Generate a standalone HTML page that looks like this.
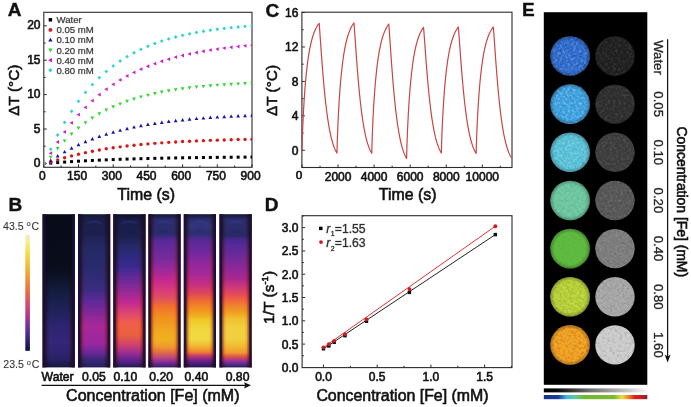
<!DOCTYPE html>
<html><head><meta charset="utf-8"><style>
html,body{margin:0;padding:0;background:#fff;width:691px;height:407px;overflow:hidden}
svg{display:block}
text{font-family:"Liberation Sans",sans-serif}
</style></head><body>
<svg width="691" height="407" viewBox="0 0 691 407" font-family='&quot;Liberation Sans&quot;, sans-serif'><rect x="43.8" y="12.3" width="208.2" height="155" fill="none" stroke="#2b2b2b" stroke-width="1.1"/>
<path d="M43.8 167.3v-3 M61.15 167.3v-1.8 M78.5 167.3v-3 M95.85 167.3v-1.8 M113.2 167.3v-3 M130.55 167.3v-1.8 M147.9 167.3v-3 M165.25 167.3v-1.8 M182.6 167.3v-3 M199.95 167.3v-1.8 M217.3 167.3v-3 M234.65 167.3v-1.8 M252 167.3v-3 M43.8 163.4h3 M43.8 146.2h1.8 M43.8 129h3 M43.8 111.8h1.8 M43.8 94.6h3 M43.8 77.4h1.8 M43.8 60.2h3 M43.8 43h1.8 M43.8 25.8h3" stroke="#2b2b2b" stroke-width="1" fill="none"/>
<text x="42.4" y="180.3" font-size="12" text-anchor="middle" font-weight="normal" fill="#111" stroke="#111" stroke-width="0.6">0</text>
<text x="77.1" y="180.3" font-size="12" text-anchor="middle" font-weight="normal" fill="#111" stroke="#111" stroke-width="0.6">150</text>
<text x="111.8" y="180.3" font-size="12" text-anchor="middle" font-weight="normal" fill="#111" stroke="#111" stroke-width="0.6">300</text>
<text x="146.5" y="180.3" font-size="12" text-anchor="middle" font-weight="normal" fill="#111" stroke="#111" stroke-width="0.6">450</text>
<text x="181.2" y="180.3" font-size="12" text-anchor="middle" font-weight="normal" fill="#111" stroke="#111" stroke-width="0.6">600</text>
<text x="215.9" y="180.3" font-size="12" text-anchor="middle" font-weight="normal" fill="#111" stroke="#111" stroke-width="0.6">750</text>
<text x="250.6" y="180.3" font-size="12" text-anchor="middle" font-weight="normal" fill="#111" stroke="#111" stroke-width="0.6">900</text>
<text x="40.5" y="167" font-size="12" text-anchor="end" font-weight="normal" fill="#111" stroke="#111" stroke-width="0.6">0</text>
<text x="40.5" y="132.6" font-size="12" text-anchor="end" font-weight="normal" fill="#111" stroke="#111" stroke-width="0.6">5</text>
<text x="40.5" y="98.2" font-size="12" text-anchor="end" font-weight="normal" fill="#111" stroke="#111" stroke-width="0.6">10</text>
<text x="40.5" y="63.8" font-size="12" text-anchor="end" font-weight="normal" fill="#111" stroke="#111" stroke-width="0.6">15</text>
<text x="40.5" y="29.4" font-size="12" text-anchor="end" font-weight="normal" fill="#111" stroke="#111" stroke-width="0.6">20</text>
<text x="146.2" y="199.6" font-size="15.9" text-anchor="middle" font-weight="normal" fill="#111" stroke="#111" stroke-width="0.6">Time (s)</text>
<text x="19.2" y="90.2" font-size="15.4" text-anchor="middle" font-weight="normal" fill="#111" stroke="#111" stroke-width="0.6" transform="rotate(-90 19.2 90.2)">&#916;T (&#176;C)</text>
<text x="7.8" y="16.3" font-size="19" text-anchor="start" font-weight="bold" fill="#111" stroke="#111" stroke-width="0.4">A</text>
<defs><clipPath id="clipA"><rect x="43.8" y="12.3" width="208.2" height="155"/></clipPath></defs>
<g clip-path="url(#clipA)">
<rect x="42.3" y="161.9" width="3" height="3" fill="#000000"/>
<rect x="49.24" y="161.61" width="3" height="3" fill="#000000"/>
<rect x="56.18" y="161.07" width="3" height="3" fill="#000000"/>
<rect x="63.12" y="160.57" width="3" height="3" fill="#000000"/>
<rect x="70.06" y="160.12" width="3" height="3" fill="#000000"/>
<rect x="77" y="159.7" width="3" height="3" fill="#000000"/>
<rect x="83.94" y="159.31" width="3" height="3" fill="#000000"/>
<rect x="90.88" y="158.96" width="3" height="3" fill="#000000"/>
<rect x="97.82" y="158.64" width="3" height="3" fill="#000000"/>
<rect x="104.76" y="158.34" width="3" height="3" fill="#000000"/>
<rect x="111.7" y="158.07" width="3" height="3" fill="#000000"/>
<rect x="118.64" y="157.82" width="3" height="3" fill="#000000"/>
<rect x="125.58" y="157.59" width="3" height="3" fill="#000000"/>
<rect x="132.52" y="157.38" width="3" height="3" fill="#000000"/>
<rect x="139.46" y="157.18" width="3" height="3" fill="#000000"/>
<rect x="146.4" y="157.01" width="3" height="3" fill="#000000"/>
<rect x="153.34" y="156.84" width="3" height="3" fill="#000000"/>
<rect x="160.28" y="156.69" width="3" height="3" fill="#000000"/>
<rect x="167.22" y="156.56" width="3" height="3" fill="#000000"/>
<rect x="174.16" y="156.43" width="3" height="3" fill="#000000"/>
<rect x="181.1" y="156.31" width="3" height="3" fill="#000000"/>
<rect x="188.04" y="156.21" width="3" height="3" fill="#000000"/>
<rect x="194.98" y="156.11" width="3" height="3" fill="#000000"/>
<rect x="201.92" y="156.02" width="3" height="3" fill="#000000"/>
<rect x="208.86" y="155.94" width="3" height="3" fill="#000000"/>
<rect x="215.8" y="155.86" width="3" height="3" fill="#000000"/>
<rect x="222.74" y="155.79" width="3" height="3" fill="#000000"/>
<rect x="229.68" y="155.73" width="3" height="3" fill="#000000"/>
<rect x="236.62" y="155.67" width="3" height="3" fill="#000000"/>
<rect x="243.56" y="155.62" width="3" height="3" fill="#000000"/>
<rect x="250.5" y="155.57" width="3" height="3" fill="#000000"/>
<circle cx="43.8" cy="163.4" r="1.7" fill="#d41a1a"/>
<circle cx="50.74" cy="162.16" r="1.7" fill="#d41a1a"/>
<circle cx="57.68" cy="159.85" r="1.7" fill="#d41a1a"/>
<circle cx="64.62" cy="157.77" r="1.7" fill="#d41a1a"/>
<circle cx="71.56" cy="155.88" r="1.7" fill="#d41a1a"/>
<circle cx="78.5" cy="154.18" r="1.7" fill="#d41a1a"/>
<circle cx="85.44" cy="152.63" r="1.7" fill="#d41a1a"/>
<circle cx="92.38" cy="151.23" r="1.7" fill="#d41a1a"/>
<circle cx="99.32" cy="149.97" r="1.7" fill="#d41a1a"/>
<circle cx="106.26" cy="148.82" r="1.7" fill="#d41a1a"/>
<circle cx="113.2" cy="147.79" r="1.7" fill="#d41a1a"/>
<circle cx="120.14" cy="146.85" r="1.7" fill="#d41a1a"/>
<circle cx="127.08" cy="146" r="1.7" fill="#d41a1a"/>
<circle cx="134.02" cy="145.24" r="1.7" fill="#d41a1a"/>
<circle cx="140.96" cy="144.54" r="1.7" fill="#d41a1a"/>
<circle cx="147.9" cy="143.92" r="1.7" fill="#d41a1a"/>
<circle cx="154.84" cy="143.35" r="1.7" fill="#d41a1a"/>
<circle cx="161.78" cy="142.83" r="1.7" fill="#d41a1a"/>
<circle cx="168.72" cy="142.37" r="1.7" fill="#d41a1a"/>
<circle cx="175.66" cy="141.95" r="1.7" fill="#d41a1a"/>
<circle cx="182.6" cy="141.57" r="1.7" fill="#d41a1a"/>
<circle cx="189.54" cy="141.22" r="1.7" fill="#d41a1a"/>
<circle cx="196.48" cy="140.91" r="1.7" fill="#d41a1a"/>
<circle cx="203.42" cy="140.63" r="1.7" fill="#d41a1a"/>
<circle cx="210.36" cy="140.37" r="1.7" fill="#d41a1a"/>
<circle cx="217.3" cy="140.14" r="1.7" fill="#d41a1a"/>
<circle cx="224.24" cy="139.93" r="1.7" fill="#d41a1a"/>
<circle cx="231.18" cy="139.74" r="1.7" fill="#d41a1a"/>
<circle cx="238.12" cy="139.57" r="1.7" fill="#d41a1a"/>
<circle cx="245.06" cy="139.42" r="1.7" fill="#d41a1a"/>
<circle cx="252" cy="139.28" r="1.7" fill="#d41a1a"/>
<path d="M43.8 161.4L45.7 164.8L41.9 164.8Z" fill="#1414a8"/>
<path d="M50.74 158.61L52.64 162.01L48.84 162.01Z" fill="#1414a8"/>
<path d="M57.68 154.07L59.58 157.47L55.78 157.47Z" fill="#1414a8"/>
<path d="M64.62 149.95L66.52 153.35L62.72 153.35Z" fill="#1414a8"/>
<path d="M71.56 146.23L73.46 149.63L69.66 149.63Z" fill="#1414a8"/>
<path d="M78.5 142.86L80.4 146.26L76.6 146.26Z" fill="#1414a8"/>
<path d="M85.44 139.81L87.34 143.21L83.54 143.21Z" fill="#1414a8"/>
<path d="M92.38 137.06L94.28 140.46L90.48 140.46Z" fill="#1414a8"/>
<path d="M99.32 134.56L101.22 137.96L97.42 137.96Z" fill="#1414a8"/>
<path d="M106.26 132.3L108.16 135.7L104.36 135.7Z" fill="#1414a8"/>
<path d="M113.2 130.26L115.1 133.66L111.3 133.66Z" fill="#1414a8"/>
<path d="M120.14 128.41L122.04 131.81L118.24 131.81Z" fill="#1414a8"/>
<path d="M127.08 126.74L128.98 130.14L125.18 130.14Z" fill="#1414a8"/>
<path d="M134.02 125.22L135.92 128.62L132.12 128.62Z" fill="#1414a8"/>
<path d="M140.96 123.85L142.86 127.25L139.06 127.25Z" fill="#1414a8"/>
<path d="M147.9 122.61L149.8 126.01L146 126.01Z" fill="#1414a8"/>
<path d="M154.84 121.49L156.74 124.89L152.94 124.89Z" fill="#1414a8"/>
<path d="M161.78 120.48L163.68 123.88L159.88 123.88Z" fill="#1414a8"/>
<path d="M168.72 119.56L170.62 122.96L166.82 122.96Z" fill="#1414a8"/>
<path d="M175.66 118.73L177.56 122.13L173.76 122.13Z" fill="#1414a8"/>
<path d="M182.6 117.98L184.5 121.38L180.7 121.38Z" fill="#1414a8"/>
<path d="M189.54 117.3L191.44 120.7L187.64 120.7Z" fill="#1414a8"/>
<path d="M196.48 116.68L198.38 120.08L194.58 120.08Z" fill="#1414a8"/>
<path d="M203.42 116.13L205.32 119.53L201.52 119.53Z" fill="#1414a8"/>
<path d="M210.36 115.62L212.26 119.02L208.46 119.02Z" fill="#1414a8"/>
<path d="M217.3 115.17L219.2 118.57L215.4 118.57Z" fill="#1414a8"/>
<path d="M224.24 114.75L226.14 118.15L222.34 118.15Z" fill="#1414a8"/>
<path d="M231.18 114.38L233.08 117.78L229.28 117.78Z" fill="#1414a8"/>
<path d="M238.12 114.04L240.02 117.44L236.22 117.44Z" fill="#1414a8"/>
<path d="M245.06 113.74L246.96 117.14L243.16 117.14Z" fill="#1414a8"/>
<path d="M252 113.46L253.9 116.86L250.1 116.86Z" fill="#1414a8"/>
<path d="M43.8 165.4L45.7 162L41.9 162Z" fill="#34d434"/>
<path d="M50.74 159.05L52.64 155.65L48.84 155.65Z" fill="#34d434"/>
<path d="M57.68 150.43L59.58 147.03L55.78 147.03Z" fill="#34d434"/>
<path d="M64.62 142.79L66.52 139.39L62.72 139.39Z" fill="#34d434"/>
<path d="M71.56 136.01L73.46 132.61L69.66 132.61Z" fill="#34d434"/>
<path d="M78.5 130L80.4 126.6L76.6 126.6Z" fill="#34d434"/>
<path d="M85.44 124.67L87.34 121.27L83.54 121.27Z" fill="#34d434"/>
<path d="M92.38 119.94L94.28 116.54L90.48 116.54Z" fill="#34d434"/>
<path d="M99.32 115.74L101.22 112.34L97.42 112.34Z" fill="#34d434"/>
<path d="M106.26 112.02L108.16 108.62L104.36 108.62Z" fill="#34d434"/>
<path d="M113.2 108.72L115.1 105.32L111.3 105.32Z" fill="#34d434"/>
<path d="M120.14 105.79L122.04 102.39L118.24 102.39Z" fill="#34d434"/>
<path d="M127.08 103.2L128.98 99.8L125.18 99.8Z" fill="#34d434"/>
<path d="M134.02 100.9L135.92 97.5L132.12 97.5Z" fill="#34d434"/>
<path d="M140.96 98.85L142.86 95.45L139.06 95.45Z" fill="#34d434"/>
<path d="M147.9 97.04L149.8 93.64L146 93.64Z" fill="#34d434"/>
<path d="M154.84 95.44L156.74 92.04L152.94 92.04Z" fill="#34d434"/>
<path d="M161.78 94.01L163.68 90.61L159.88 90.61Z" fill="#34d434"/>
<path d="M168.72 92.75L170.62 89.35L166.82 89.35Z" fill="#34d434"/>
<path d="M175.66 91.63L177.56 88.23L173.76 88.23Z" fill="#34d434"/>
<path d="M182.6 90.64L184.5 87.24L180.7 87.24Z" fill="#34d434"/>
<path d="M189.54 89.75L191.44 86.35L187.64 86.35Z" fill="#34d434"/>
<path d="M196.48 88.97L198.38 85.57L194.58 85.57Z" fill="#34d434"/>
<path d="M203.42 88.28L205.32 84.88L201.52 84.88Z" fill="#34d434"/>
<path d="M210.36 87.66L212.26 84.26L208.46 84.26Z" fill="#34d434"/>
<path d="M217.3 87.12L219.2 83.72L215.4 83.72Z" fill="#34d434"/>
<path d="M224.24 86.63L226.14 83.23L222.34 83.23Z" fill="#34d434"/>
<path d="M231.18 86.21L233.08 82.81L229.28 82.81Z" fill="#34d434"/>
<path d="M238.12 85.82L240.02 82.42L236.22 82.42Z" fill="#34d434"/>
<path d="M245.06 85.49L246.96 82.09L243.16 82.09Z" fill="#34d434"/>
<path d="M252 85.19L253.9 81.79L250.1 81.79Z" fill="#34d434"/>
<path d="M41.8 163.4L45.2 161.5L45.2 165.3Z" fill="#cc1ccc"/>
<path d="M48.74 153.17L52.14 151.27L52.14 155.07Z" fill="#cc1ccc"/>
<path d="M55.68 142.01L59.08 140.11L59.08 143.91Z" fill="#cc1ccc"/>
<path d="M62.62 131.94L66.02 130.04L66.02 133.84Z" fill="#cc1ccc"/>
<path d="M69.56 122.86L72.96 120.96L72.96 124.76Z" fill="#cc1ccc"/>
<path d="M76.5 114.67L79.9 112.77L79.9 116.57Z" fill="#cc1ccc"/>
<path d="M83.44 107.29L86.84 105.39L86.84 109.19Z" fill="#cc1ccc"/>
<path d="M90.38 100.63L93.78 98.73L93.78 102.53Z" fill="#cc1ccc"/>
<path d="M97.32 94.63L100.72 92.73L100.72 96.53Z" fill="#cc1ccc"/>
<path d="M104.26 89.22L107.66 87.32L107.66 91.12Z" fill="#cc1ccc"/>
<path d="M111.2 84.34L114.6 82.44L114.6 86.24Z" fill="#cc1ccc"/>
<path d="M118.14 79.94L121.54 78.04L121.54 81.84Z" fill="#cc1ccc"/>
<path d="M125.08 75.97L128.48 74.07L128.48 77.87Z" fill="#cc1ccc"/>
<path d="M132.02 72.39L135.42 70.49L135.42 74.29Z" fill="#cc1ccc"/>
<path d="M138.96 69.17L142.36 67.27L142.36 71.07Z" fill="#cc1ccc"/>
<path d="M145.9 66.26L149.3 64.36L149.3 68.16Z" fill="#cc1ccc"/>
<path d="M152.84 63.63L156.24 61.73L156.24 65.53Z" fill="#cc1ccc"/>
<path d="M159.78 61.27L163.18 59.37L163.18 63.17Z" fill="#cc1ccc"/>
<path d="M166.72 59.13L170.12 57.23L170.12 61.03Z" fill="#cc1ccc"/>
<path d="M173.66 57.21L177.06 55.31L177.06 59.11Z" fill="#cc1ccc"/>
<path d="M180.6 55.48L184 53.58L184 57.38Z" fill="#cc1ccc"/>
<path d="M187.54 53.91L190.94 52.01L190.94 55.81Z" fill="#cc1ccc"/>
<path d="M194.48 52.5L197.88 50.6L197.88 54.4Z" fill="#cc1ccc"/>
<path d="M201.42 51.23L204.82 49.33L204.82 53.13Z" fill="#cc1ccc"/>
<path d="M208.36 50.08L211.76 48.18L211.76 51.98Z" fill="#cc1ccc"/>
<path d="M215.3 49.05L218.7 47.15L218.7 50.95Z" fill="#cc1ccc"/>
<path d="M222.24 48.12L225.64 46.22L225.64 50.02Z" fill="#cc1ccc"/>
<path d="M229.18 47.27L232.58 45.37L232.58 49.17Z" fill="#cc1ccc"/>
<path d="M236.12 46.52L239.52 44.62L239.52 48.42Z" fill="#cc1ccc"/>
<path d="M243.06 45.83L246.46 43.93L246.46 47.73Z" fill="#cc1ccc"/>
<path d="M250 45.22L253.4 43.32L253.4 47.12Z" fill="#cc1ccc"/>
<path d="M43.8 161.5L45.7 163.4L43.8 165.3L41.9 163.4Z" fill="#34d4cc"/>
<path d="M50.74 147.26L52.64 149.16L50.74 151.06L48.84 149.16Z" fill="#34d4cc"/>
<path d="M57.68 133.11L59.58 135.01L57.68 136.91L55.78 135.01Z" fill="#34d4cc"/>
<path d="M64.62 120.53L66.52 122.43L64.62 124.33L62.72 122.43Z" fill="#34d4cc"/>
<path d="M71.56 109.35L73.46 111.25L71.56 113.15L69.66 111.25Z" fill="#34d4cc"/>
<path d="M78.5 99.41L80.4 101.31L78.5 103.21L76.6 101.31Z" fill="#34d4cc"/>
<path d="M85.44 90.57L87.34 92.47L85.44 94.37L83.54 92.47Z" fill="#34d4cc"/>
<path d="M92.38 82.71L94.28 84.61L92.38 86.51L90.48 84.61Z" fill="#34d4cc"/>
<path d="M99.32 75.72L101.22 77.62L99.32 79.52L97.42 77.62Z" fill="#34d4cc"/>
<path d="M106.26 69.51L108.16 71.41L106.26 73.31L104.36 71.41Z" fill="#34d4cc"/>
<path d="M113.2 63.99L115.1 65.89L113.2 67.79L111.3 65.89Z" fill="#34d4cc"/>
<path d="M120.14 59.09L122.04 60.99L120.14 62.89L118.24 60.99Z" fill="#34d4cc"/>
<path d="M127.08 54.72L128.98 56.62L127.08 58.52L125.18 56.62Z" fill="#34d4cc"/>
<path d="M134.02 50.84L135.92 52.74L134.02 54.64L132.12 52.74Z" fill="#34d4cc"/>
<path d="M140.96 47.39L142.86 49.29L140.96 51.19L139.06 49.29Z" fill="#34d4cc"/>
<path d="M147.9 44.33L149.8 46.23L147.9 48.13L146 46.23Z" fill="#34d4cc"/>
<path d="M154.84 41.6L156.74 43.5L154.84 45.4L152.94 43.5Z" fill="#34d4cc"/>
<path d="M161.78 39.18L163.68 41.08L161.78 42.98L159.88 41.08Z" fill="#34d4cc"/>
<path d="M168.72 37.03L170.62 38.93L168.72 40.83L166.82 38.93Z" fill="#34d4cc"/>
<path d="M175.66 35.11L177.56 37.01L175.66 38.91L173.76 37.01Z" fill="#34d4cc"/>
<path d="M182.6 33.41L184.5 35.31L182.6 37.21L180.7 35.31Z" fill="#34d4cc"/>
<path d="M189.54 31.89L191.44 33.79L189.54 35.69L187.64 33.79Z" fill="#34d4cc"/>
<path d="M196.48 30.55L198.38 32.45L196.48 34.35L194.58 32.45Z" fill="#34d4cc"/>
<path d="M203.42 29.35L205.32 31.25L203.42 33.15L201.52 31.25Z" fill="#34d4cc"/>
<path d="M210.36 28.29L212.26 30.19L210.36 32.09L208.46 30.19Z" fill="#34d4cc"/>
<path d="M217.3 27.34L219.2 29.24L217.3 31.14L215.4 29.24Z" fill="#34d4cc"/>
<path d="M224.24 26.5L226.14 28.4L224.24 30.3L222.34 28.4Z" fill="#34d4cc"/>
<path d="M231.18 25.76L233.08 27.66L231.18 29.56L229.28 27.66Z" fill="#34d4cc"/>
<path d="M238.12 25.09L240.02 26.99L238.12 28.89L236.22 26.99Z" fill="#34d4cc"/>
<path d="M245.06 24.5L246.96 26.4L245.06 28.3L243.16 26.4Z" fill="#34d4cc"/>
<path d="M252 23.98L253.9 25.88L252 27.78L250.1 25.88Z" fill="#34d4cc"/>
</g>
<rect x="48.67" y="18.07" width="3.45" height="3.45" fill="#000000"/>
<text x="56.5" y="23.2" font-size="9.6" text-anchor="start" font-weight="normal" fill="#333" stroke="#333" stroke-width="0.6" stroke-opacity="0.35">Water</text>
<circle cx="50.4" cy="29.9" r="1.95" fill="#d41a1a"/>
<text x="56.5" y="33.3" font-size="9.6" text-anchor="start" font-weight="normal" fill="#333" stroke="#333" stroke-width="0.6" stroke-opacity="0.35">0.05 mM</text>
<path d="M50.4 37.7L52.59 41.61L48.21 41.61Z" fill="#1414a8"/>
<text x="56.5" y="43.4" font-size="9.6" text-anchor="start" font-weight="normal" fill="#333" stroke="#333" stroke-width="0.6" stroke-opacity="0.35">0.10 mM</text>
<path d="M50.4 52.4L52.59 48.49L48.21 48.49Z" fill="#34d434"/>
<text x="56.5" y="53.5" font-size="9.6" text-anchor="start" font-weight="normal" fill="#333" stroke="#333" stroke-width="0.6" stroke-opacity="0.35">0.20 mM</text>
<path d="M48.1 60.2L52.01 58.02L52.01 62.39Z" fill="#cc1ccc"/>
<text x="56.5" y="63.6" font-size="9.6" text-anchor="start" font-weight="normal" fill="#333" stroke="#333" stroke-width="0.6" stroke-opacity="0.35">0.40 mM</text>
<path d="M50.4 68.11L52.59 70.3L50.4 72.48L48.21 70.3Z" fill="#34d4cc"/>
<text x="56.5" y="73.7" font-size="9.6" text-anchor="start" font-weight="normal" fill="#333" stroke="#333" stroke-width="0.6" stroke-opacity="0.35">0.80 mM</text>
<rect x="301.9" y="12.2" width="210.1" height="155.3" fill="none" stroke="#2b2b2b" stroke-width="1.1"/>
<path d="M302 167.5v-3 M320.03 167.5v-1.8 M338.06 167.5v-3 M356.09 167.5v-1.8 M374.12 167.5v-3 M392.15 167.5v-1.8 M410.18 167.5v-3 M428.21 167.5v-1.8 M446.24 167.5v-3 M464.27 167.5v-1.8 M482.3 167.5v-3 M500.33 167.5v-1.8 M301.9 167.52h1.8 M301.9 150.3h3 M301.9 133.08h1.8 M301.9 115.86h3 M301.9 98.64h1.8 M301.9 81.42h3 M301.9 64.2h1.8 M301.9 46.98h3 M301.9 29.76h1.8 M301.9 12.54h3" stroke="#2b2b2b" stroke-width="1" fill="none"/>
<text x="338.06" y="181.3" font-size="12" text-anchor="middle" font-weight="normal" fill="#111" stroke="#111" stroke-width="0.6">2000</text>
<text x="374.12" y="181.3" font-size="12" text-anchor="middle" font-weight="normal" fill="#111" stroke="#111" stroke-width="0.6">4000</text>
<text x="410.18" y="181.3" font-size="12" text-anchor="middle" font-weight="normal" fill="#111" stroke="#111" stroke-width="0.6">6000</text>
<text x="446.24" y="181.3" font-size="12" text-anchor="middle" font-weight="normal" fill="#111" stroke="#111" stroke-width="0.6">8000</text>
<text x="482.3" y="181.3" font-size="12" text-anchor="middle" font-weight="normal" fill="#111" stroke="#111" stroke-width="0.6">10000</text>
<text x="299" y="178.8" font-size="11.8" text-anchor="middle" font-weight="normal" fill="#111" stroke="#111" stroke-width="0.6">0</text>
<text x="298.4" y="154.6" font-size="12" text-anchor="end" font-weight="normal" fill="#111" stroke="#111" stroke-width="0.6">0</text>
<text x="298.4" y="120.16" font-size="12" text-anchor="end" font-weight="normal" fill="#111" stroke="#111" stroke-width="0.6">4</text>
<text x="298.4" y="85.72" font-size="12" text-anchor="end" font-weight="normal" fill="#111" stroke="#111" stroke-width="0.6">8</text>
<text x="298.4" y="51.28" font-size="12" text-anchor="end" font-weight="normal" fill="#111" stroke="#111" stroke-width="0.6">12</text>
<text x="298.4" y="16.84" font-size="12" text-anchor="end" font-weight="normal" fill="#111" stroke="#111" stroke-width="0.6">16</text>
<text x="407.7" y="199.8" font-size="15.9" text-anchor="middle" font-weight="normal" fill="#111" stroke="#111" stroke-width="0.6">Time (s)</text>
<text x="276.9" y="90.5" font-size="15.4" text-anchor="middle" font-weight="normal" fill="#111" stroke="#111" stroke-width="0.6" transform="rotate(-90 276.9 90.5)">&#916;T (&#176;C)</text>
<text x="265.6" y="16.8" font-size="19" text-anchor="start" font-weight="bold" fill="#111" stroke="#111" stroke-width="0.4">C</text>
<path d="M302 150.3 L302.14 144.17 L302.29 139.45 L302.43 135.25 L302.58 131.38 L302.72 127.77 L302.87 124.37 L303.01 121.16 L303.15 118.11 L303.3 115.19 L303.44 112.41 L303.59 109.74 L303.73 107.18 L303.88 104.71 L304.02 102.34 L304.16 100.06 L304.31 97.85 L304.45 95.73 L304.6 93.67 L304.74 91.68 L304.88 89.76 L305.03 87.9 L305.17 86.09 L305.32 84.35 L305.46 82.65 L305.61 81.01 L305.75 79.41 L305.89 77.86 L306.04 76.36 L306.18 74.9 L306.33 73.48 L306.47 72.1 L306.62 70.76 L306.76 69.46 L306.9 68.19 L307.05 66.95 L307.19 65.75 L307.34 64.58 L307.48 63.44 L307.63 62.34 L307.77 61.26 L307.91 60.2 L308.06 59.18 L308.2 58.18 L308.35 57.21 L308.49 56.26 L308.64 55.33 L308.78 54.43 L308.92 53.55 L309.07 52.7 L309.21 51.86 L309.36 51.04 L309.5 50.25 L309.64 49.47 L309.79 48.71 L309.93 47.97 L310.08 47.25 L310.22 46.54 L310.37 45.85 L310.51 45.18 L310.65 44.52 L310.8 43.88 L310.94 43.25 L311.09 42.64 L311.23 42.04 L311.38 41.46 L311.52 40.89 L311.66 40.33 L311.81 39.79 L311.95 39.25 L312.1 38.73 L312.24 38.22 L312.39 37.73 L312.53 37.24 L312.67 36.76 L312.82 36.3 L312.96 35.84 L313.11 35.4 L313.25 34.97 L313.39 34.54 L313.54 34.12 L313.68 33.72 L313.83 33.32 L313.97 32.93 L314.12 32.55 L314.26 32.18 L314.4 31.81 L314.55 31.45 L314.69 31.11 L314.84 30.76 L314.98 30.43 L315.13 30.1 L315.27 29.78 L315.41 29.47 L315.56 29.16 L315.7 28.86 L315.85 28.57 L315.99 28.28 L316.14 28 L316.28 27.72 L316.42 27.45 L316.57 27.19 L316.71 26.93 L316.86 26.67 L317 26.43 L317.15 26.18 L317.29 25.95 L317.43 25.71 L317.58 25.48 L317.72 25.26 L317.87 25.04 L318.01 24.83 L318.15 24.62 L318.3 24.41 L318.44 24.21 L318.59 24.01 L318.73 23.82 L318.88 23.63 L319.02 23.44 L319.13 23.3 L319.16 23.6 L319.31 25.18 L319.45 26.97 L319.6 28.86 L319.74 30.81 L319.89 32.81 L320.03 34.83 L320.17 36.87 L320.32 38.92 L320.46 40.97 L320.61 43.02 L320.75 45.06 L320.9 47.1 L321.04 49.12 L321.18 51.13 L321.33 53.13 L321.47 55.11 L321.62 57.08 L321.76 59.02 L321.91 60.94 L322.05 62.85 L322.19 64.73 L322.34 66.59 L322.48 68.42 L322.63 70.23 L322.77 72.02 L322.91 73.79 L323.06 75.53 L323.2 77.24 L323.35 78.93 L323.49 80.6 L323.64 82.24 L323.78 83.85 L323.92 85.44 L324.07 87.01 L324.21 88.55 L324.36 90.06 L324.5 91.55 L324.65 93.02 L324.79 94.46 L324.93 95.87 L325.08 97.27 L325.22 98.63 L325.37 99.98 L325.51 101.3 L325.66 102.6 L325.8 103.87 L325.94 105.12 L326.09 106.35 L326.23 107.55 L326.38 108.74 L326.52 109.9 L326.67 111.04 L326.81 112.16 L326.95 113.26 L327.1 114.33 L327.24 115.39 L327.39 116.42 L327.53 117.44 L327.67 118.43 L327.82 119.41 L327.96 120.37 L328.11 121.31 L328.25 122.23 L328.4 123.13 L328.54 124.01 L328.68 124.88 L328.83 125.73 L328.97 126.56 L329.12 127.37 L329.26 128.17 L329.41 128.95 L329.55 129.72 L329.69 130.47 L329.84 131.2 L329.98 131.92 L330.13 132.62 L330.27 133.31 L330.42 133.99 L330.56 134.65 L330.7 135.29 L330.85 135.93 L330.99 136.55 L331.14 137.15 L331.28 137.74 L331.42 138.33 L331.57 138.89 L331.71 139.45 L331.86 139.99 L332 140.52 L332.15 141.05 L332.29 141.55 L332.43 142.05 L332.58 142.54 L332.72 143.02 L332.87 143.48 L333.01 143.94 L333.16 144.38 L333.3 144.82 L333.44 145.24 L333.59 145.66 L333.73 146.07 L333.88 146.47 L334.02 146.85 L334.17 147.24 L334.31 147.61 L334.45 147.97 L334.6 148.33 L334.74 148.67 L334.89 149.01 L335.03 149.34 L335.18 149.67 L335.32 149.98 L335.46 150.29 L335.61 150.6 L335.75 150.89 L335.9 151.18 L336.04 151.46 L336.18 151.74 L336.33 152.01 L336.47 152.27 L336.62 152.53 L336.76 152.78 L336.91 153.02 L336.98 153.14 L337.05 149.61 L337.19 144.34 L337.34 139.78 L337.48 135.65 L337.63 131.81 L337.77 128.22 L337.92 124.83 L338.06 121.61 L338.2 118.54 L338.35 115.62 L338.49 112.82 L338.64 110.13 L338.78 107.55 L338.93 105.07 L339.07 102.68 L339.21 100.37 L339.36 98.14 L339.5 96 L339.65 93.92 L339.79 91.91 L339.94 89.96 L340.08 88.08 L340.22 86.26 L340.37 84.49 L340.51 82.77 L340.66 81.11 L340.8 79.49 L340.94 77.93 L341.09 76.4 L341.23 74.92 L341.38 73.49 L341.52 72.09 L341.67 70.73 L341.81 69.41 L341.95 68.12 L342.1 66.87 L342.24 65.65 L342.39 64.47 L342.53 63.31 L342.68 62.19 L342.82 61.09 L342.96 60.03 L343.11 58.99 L343.25 57.97 L343.4 56.99 L343.54 56.02 L343.69 55.09 L343.83 54.17 L343.97 53.28 L344.12 52.41 L344.26 51.56 L344.41 50.73 L344.55 49.92 L344.7 49.13 L344.84 48.36 L344.98 47.61 L345.13 46.88 L345.27 46.16 L345.42 45.46 L345.56 44.78 L345.7 44.11 L345.85 43.46 L345.99 42.82 L346.14 42.2 L346.28 41.59 L346.43 41 L346.57 40.42 L346.71 39.85 L346.86 39.3 L347 38.76 L347.15 38.23 L347.29 37.71 L347.44 37.21 L347.58 36.71 L347.72 36.23 L347.87 35.76 L348.01 35.29 L348.16 34.84 L348.3 34.4 L348.45 33.97 L348.59 33.55 L348.73 33.13 L348.88 32.73 L349.02 32.33 L349.17 31.95 L349.31 31.57 L349.45 31.2 L349.6 30.83 L349.74 30.48 L349.89 30.13 L350.03 29.79 L350.18 29.46 L350.32 29.13 L350.46 28.81 L350.61 28.5 L350.75 28.2 L350.9 27.9 L351.04 27.61 L351.19 27.32 L351.33 27.04 L351.47 26.76 L351.62 26.49 L351.76 26.23 L351.91 25.97 L352.05 25.72 L352.2 25.47 L352.34 25.23 L352.48 24.99 L352.63 24.76 L352.77 24.53 L352.92 24.31 L353.06 24.09 L353.21 23.88 L353.35 23.67 L353.49 23.46 L353.64 23.26 L353.78 23.07 L353.93 22.87 L354.07 24.33 L354.21 26.09 L354.36 27.97 L354.5 29.92 L354.65 31.92 L354.79 33.94 L354.94 35.99 L355.08 38.04 L355.22 40.1 L355.37 42.16 L355.51 44.22 L355.66 46.27 L355.8 48.3 L355.95 50.33 L356.09 52.34 L356.23 54.33 L356.38 56.31 L356.52 58.27 L356.67 60.21 L356.81 62.12 L356.96 64.02 L357.1 65.89 L357.24 67.74 L357.39 69.57 L357.53 71.37 L357.68 73.15 L357.82 74.9 L357.97 76.63 L358.11 78.34 L358.25 80.02 L358.4 81.67 L358.54 83.3 L358.69 84.9 L358.83 86.48 L358.97 88.03 L359.12 89.56 L359.26 91.06 L359.41 92.54 L359.55 94 L359.7 95.43 L359.84 96.83 L359.98 98.21 L360.13 99.57 L360.27 100.9 L360.42 102.21 L360.56 103.49 L360.71 104.76 L360.85 106 L360.99 107.21 L361.14 108.41 L361.28 109.58 L361.43 110.73 L361.57 111.86 L361.72 112.97 L361.86 114.06 L362 115.12 L362.15 116.17 L362.29 117.19 L362.44 118.2 L362.58 119.18 L362.73 120.15 L362.87 121.1 L363.01 122.03 L363.16 122.94 L363.3 123.83 L363.45 124.7 L363.59 125.56 L363.73 126.4 L363.88 127.22 L364.02 128.03 L364.17 128.82 L364.31 129.59 L364.46 130.35 L364.6 131.09 L364.74 131.81 L364.89 132.52 L365.03 133.22 L365.18 133.9 L365.32 134.57 L365.47 135.22 L365.61 135.86 L365.75 136.49 L365.9 137.1 L366.04 137.7 L366.19 138.28 L366.33 138.86 L366.48 139.42 L366.62 139.97 L366.76 140.51 L366.91 141.03 L367.05 141.55 L367.2 142.05 L367.34 142.54 L367.48 143.02 L367.63 143.49 L367.77 143.95 L367.92 144.4 L368.06 144.84 L368.21 145.27 L368.35 145.69 L368.49 146.11 L368.64 146.51 L368.78 146.9 L368.93 147.29 L369.07 147.66 L369.22 148.03 L369.36 148.39 L369.5 148.74 L369.65 149.08 L369.79 149.42 L369.94 149.74 L370.08 150.06 L370.23 150.38 L370.37 150.68 L370.51 150.98 L370.66 151.27 L370.8 151.56 L370.95 151.83 L371.09 152.11 L371.24 152.37 L371.38 152.63 L371.52 152.88 L371.67 153.13 L371.78 153.31 L371.81 151.36 L371.96 145.8 L372.1 141.15 L372.24 136.96 L372.39 133.09 L372.53 129.47 L372.68 126.06 L372.82 122.83 L372.97 119.75 L373.11 116.82 L373.25 114.01 L373.4 111.32 L373.54 108.73 L373.69 106.24 L373.83 103.85 L373.98 101.54 L374.12 99.32 L374.26 97.17 L374.41 95.09 L374.55 93.08 L374.7 91.14 L374.84 89.25 L374.99 87.43 L375.13 85.66 L375.27 83.95 L375.42 82.29 L375.56 80.67 L375.71 79.11 L375.85 77.59 L376 76.11 L376.14 74.67 L376.28 73.28 L376.43 71.92 L376.57 70.6 L376.72 69.32 L376.86 68.07 L377 66.85 L377.15 65.67 L377.29 64.51 L377.44 63.39 L377.58 62.3 L377.73 61.23 L377.87 60.2 L378.01 59.19 L378.16 58.2 L378.3 57.24 L378.45 56.3 L378.59 55.39 L378.74 54.5 L378.88 53.63 L379.02 52.78 L379.17 51.96 L379.31 51.15 L379.46 50.36 L379.6 49.59 L379.75 48.84 L379.89 48.11 L380.03 47.4 L380.18 46.7 L380.32 46.02 L380.47 45.35 L380.61 44.7 L380.76 44.07 L380.9 43.45 L381.04 42.84 L381.19 42.25 L381.33 41.67 L381.48 41.1 L381.62 40.55 L381.76 40.01 L381.91 39.48 L382.05 38.97 L382.2 38.46 L382.34 37.97 L382.49 37.49 L382.63 37.02 L382.77 36.56 L382.92 36.11 L383.06 35.67 L383.21 35.24 L383.35 34.81 L383.5 34.4 L383.64 34 L383.78 33.6 L383.93 33.22 L384.07 32.84 L384.22 32.47 L384.36 32.11 L384.51 31.76 L384.65 31.41 L384.79 31.07 L384.94 30.74 L385.08 30.41 L385.23 30.1 L385.37 29.78 L385.51 29.48 L385.66 29.18 L385.8 28.89 L385.95 28.6 L386.09 28.33 L386.24 28.05 L386.38 27.78 L386.52 27.52 L386.67 27.26 L386.81 27.01 L386.96 26.77 L387.1 26.52 L387.25 26.29 L387.39 26.06 L387.53 25.83 L387.68 25.61 L387.82 25.39 L387.97 25.18 L388.11 24.97 L388.26 24.76 L388.4 24.56 L388.54 24.36 L388.69 24.17 L388.76 24.08 L388.83 24.76 L388.98 26.47 L389.12 28.36 L389.27 30.33 L389.41 32.37 L389.55 34.44 L389.7 36.54 L389.84 38.65 L389.99 40.77 L390.13 42.89 L390.27 45.01 L390.42 47.13 L390.56 49.23 L390.71 51.33 L390.85 53.41 L391 55.47 L391.14 57.52 L391.28 59.54 L391.43 61.55 L391.57 63.54 L391.72 65.5 L391.86 67.44 L392.01 69.36 L392.15 71.25 L392.29 73.12 L392.44 74.97 L392.58 76.79 L392.73 78.58 L392.87 80.35 L393.02 82.09 L393.16 83.81 L393.3 85.5 L393.45 87.17 L393.59 88.81 L393.74 90.42 L393.88 92.01 L394.03 93.57 L394.17 95.11 L394.31 96.62 L394.46 98.1 L394.6 99.56 L394.75 101 L394.89 102.41 L395.03 103.79 L395.18 105.15 L395.32 106.49 L395.47 107.8 L395.61 109.09 L395.76 110.36 L395.9 111.6 L396.04 112.82 L396.19 114.01 L396.33 115.19 L396.48 116.34 L396.62 117.47 L396.77 118.58 L396.91 119.67 L397.05 120.74 L397.2 121.78 L397.34 122.81 L397.49 123.81 L397.63 124.8 L397.78 125.77 L397.92 126.71 L398.06 127.64 L398.21 128.55 L398.35 129.44 L398.5 130.32 L398.64 131.17 L398.79 132.01 L398.93 132.83 L399.07 133.64 L399.22 134.43 L399.36 135.2 L399.51 135.95 L399.65 136.69 L399.79 137.42 L399.94 138.13 L400.08 138.82 L400.23 139.5 L400.37 140.17 L400.52 140.82 L400.66 141.46 L400.8 142.08 L400.95 142.69 L401.09 143.29 L401.24 143.88 L401.38 144.45 L401.53 145.01 L401.67 145.56 L401.81 146.09 L401.96 146.62 L402.1 147.13 L402.25 147.63 L402.39 148.12 L402.54 148.6 L402.68 149.07 L402.82 149.53 L402.97 149.97 L403.11 150.41 L403.26 150.84 L403.4 151.26 L403.54 151.67 L403.69 152.07 L403.83 152.46 L403.98 152.85 L404.12 153.22 L404.27 153.59 L404.41 153.94 L404.55 154.29 L404.7 154.63 L404.84 154.97 L404.99 155.29 L405.13 155.61 L405.28 155.92 L405.42 156.23 L405.56 156.52 L405.71 156.81 L405.85 157.1 L406 157.37 L406.14 157.64 L406.29 157.91 L406.43 158.17 L406.57 158.42 L406.61 158.48 L406.72 153.49 L406.86 148.42 L407.01 143.95 L407.15 139.87 L407.3 136.08 L407.44 132.51 L407.58 129.14 L407.73 125.94 L407.87 122.89 L408.02 119.98 L408.16 117.19 L408.3 114.51 L408.45 111.94 L408.59 109.46 L408.74 107.07 L408.88 104.77 L409.03 102.55 L409.17 100.41 L409.31 98.33 L409.46 96.32 L409.6 94.38 L409.75 92.5 L409.89 90.68 L410.04 88.91 L410.18 87.2 L410.32 85.53 L410.47 83.92 L410.61 82.35 L410.76 80.83 L410.9 79.35 L411.05 77.91 L411.19 76.52 L411.33 75.16 L411.48 73.83 L411.62 72.55 L411.77 71.3 L411.91 70.08 L412.06 68.89 L412.2 67.74 L412.34 66.61 L412.49 65.52 L412.63 64.45 L412.78 63.41 L412.92 62.4 L413.06 61.41 L413.21 60.45 L413.35 59.51 L413.5 58.59 L413.64 57.7 L413.79 56.83 L413.93 55.98 L414.07 55.15 L414.22 54.34 L414.36 53.55 L414.51 52.78 L414.65 52.03 L414.8 51.29 L414.94 50.57 L415.08 49.87 L415.23 49.19 L415.37 48.52 L415.52 47.87 L415.66 47.23 L415.81 46.61 L415.95 46 L416.09 45.41 L416.24 44.83 L416.38 44.26 L416.53 43.71 L416.67 43.16 L416.82 42.63 L416.96 42.12 L417.1 41.61 L417.25 41.12 L417.39 40.63 L417.54 40.16 L417.68 39.7 L417.82 39.24 L417.97 38.8 L418.11 38.37 L418.26 37.94 L418.4 37.53 L418.55 37.13 L418.69 36.73 L418.83 36.34 L418.98 35.96 L419.12 35.59 L419.27 35.23 L419.41 34.87 L419.56 34.52 L419.7 34.18 L419.84 33.85 L419.99 33.52 L420.13 33.21 L420.28 32.89 L420.42 32.59 L420.57 32.29 L420.71 31.99 L420.85 31.71 L421 31.43 L421.14 31.15 L421.29 30.88 L421.43 30.62 L421.57 30.36 L421.72 30.11 L421.86 29.86 L422.01 29.62 L422.15 29.38 L422.3 29.15 L422.44 28.92 L422.58 28.69 L422.73 28.48 L422.87 28.26 L423.02 28.05 L423.16 27.85 L423.31 27.64 L423.45 27.45 L423.52 27.35 L423.59 27.98 L423.74 29.58 L423.88 31.34 L424.03 33.19 L424.17 35.09 L424.32 37.03 L424.46 38.99 L424.6 40.96 L424.75 42.94 L424.89 44.92 L425.04 46.9 L425.18 48.88 L425.33 50.84 L425.47 52.8 L425.61 54.74 L425.76 56.67 L425.9 58.58 L426.05 60.47 L426.19 62.35 L426.33 64.2 L426.48 66.04 L426.62 67.85 L426.77 69.64 L426.91 71.41 L427.06 73.16 L427.2 74.88 L427.34 76.58 L427.49 78.26 L427.63 79.91 L427.78 81.54 L427.92 83.14 L428.07 84.72 L428.21 86.28 L428.35 87.81 L428.5 89.31 L428.64 90.8 L428.79 92.26 L428.93 93.69 L429.08 95.1 L429.22 96.49 L429.36 97.85 L429.51 99.19 L429.65 100.51 L429.8 101.8 L429.94 103.07 L430.09 104.32 L430.23 105.55 L430.37 106.75 L430.52 107.93 L430.66 109.1 L430.81 110.23 L430.95 111.35 L431.09 112.45 L431.24 113.53 L431.38 114.58 L431.53 115.62 L431.67 116.63 L431.82 117.63 L431.96 118.61 L432.1 119.57 L432.25 120.5 L432.39 121.43 L432.54 122.33 L432.68 123.21 L432.83 124.08 L432.97 124.93 L433.11 125.76 L433.26 126.58 L433.4 127.38 L433.55 128.16 L433.69 128.93 L433.84 129.68 L433.98 130.42 L434.12 131.14 L434.27 131.84 L434.41 132.54 L434.56 133.21 L434.7 133.88 L434.85 134.52 L434.99 135.16 L435.13 135.78 L435.28 136.39 L435.42 136.99 L435.57 137.57 L435.71 138.14 L435.85 138.7 L436 139.24 L436.14 139.78 L436.29 140.3 L436.43 140.81 L436.58 141.31 L436.72 141.8 L436.86 142.28 L437.01 142.75 L437.15 143.21 L437.3 143.65 L437.44 144.09 L437.59 144.52 L437.73 144.94 L437.87 145.35 L438.02 145.75 L438.16 146.14 L438.31 146.52 L438.45 146.9 L438.6 147.26 L438.74 147.62 L438.88 147.97 L439.03 148.31 L439.17 148.65 L439.32 148.97 L439.46 149.29 L439.6 149.6 L439.75 149.91 L439.89 150.2 L440.04 150.49 L440.18 150.78 L440.33 151.06 L440.47 151.33 L440.61 151.59 L440.76 151.85 L440.9 152.1 L441.05 152.35 L441.19 152.59 L441.34 152.83 L441.37 152.88 L441.48 148.09 L441.62 143.23 L441.77 138.94 L441.91 135.03 L442.06 131.38 L442.2 127.96 L442.35 124.73 L442.49 121.66 L442.63 118.73 L442.78 115.94 L442.92 113.26 L443.07 110.69 L443.21 108.22 L443.36 105.84 L443.5 103.55 L443.64 101.35 L443.79 99.21 L443.93 97.16 L444.08 95.16 L444.22 93.24 L444.36 91.38 L444.51 89.57 L444.65 87.82 L444.8 86.12 L444.94 84.48 L445.09 82.88 L445.23 81.34 L445.37 79.83 L445.52 78.37 L445.66 76.95 L445.81 75.57 L445.95 74.23 L446.1 72.93 L446.24 71.66 L446.38 70.42 L446.53 69.22 L446.67 68.05 L446.82 66.92 L446.96 65.81 L447.11 64.73 L447.25 63.68 L447.39 62.65 L447.54 61.66 L447.68 60.68 L447.83 59.74 L447.97 58.81 L448.12 57.91 L448.26 57.03 L448.4 56.17 L448.55 55.34 L448.69 54.52 L448.84 53.73 L448.98 52.95 L449.12 52.19 L449.27 51.45 L449.41 50.73 L449.56 50.03 L449.7 49.34 L449.85 48.67 L449.99 48.01 L450.13 47.37 L450.28 46.74 L450.42 46.13 L450.57 45.53 L450.71 44.95 L450.86 44.38 L451 43.82 L451.14 43.28 L451.29 42.75 L451.43 42.23 L451.58 41.72 L451.72 41.22 L451.87 40.74 L452.01 40.26 L452.15 39.8 L452.3 39.34 L452.44 38.9 L452.59 38.46 L452.73 38.04 L452.88 37.62 L453.02 37.22 L453.16 36.82 L453.31 36.43 L453.45 36.05 L453.6 35.68 L453.74 35.32 L453.88 34.96 L454.03 34.61 L454.17 34.27 L454.32 33.94 L454.46 33.61 L454.61 33.29 L454.75 32.98 L454.89 32.67 L455.04 32.37 L455.18 32.08 L455.33 31.79 L455.47 31.51 L455.62 31.23 L455.76 30.96 L455.9 30.7 L456.05 30.44 L456.19 30.19 L456.34 29.94 L456.48 29.7 L456.63 29.46 L456.77 29.23 L456.91 29 L457.06 28.78 L457.2 28.56 L457.35 28.34 L457.49 28.13 L457.63 27.93 L457.78 27.72 L457.92 27.53 L458.07 27.33 L458.21 27.14 L458.32 27 L458.36 27.29 L458.5 28.84 L458.64 30.58 L458.79 32.42 L458.93 34.33 L459.08 36.27 L459.22 38.24 L459.37 40.23 L459.51 42.22 L459.65 44.22 L459.8 46.22 L459.94 48.21 L460.09 50.2 L460.23 52.17 L460.38 54.14 L460.52 56.08 L460.66 58.01 L460.81 59.93 L460.95 61.82 L461.1 63.7 L461.24 65.55 L461.39 67.39 L461.53 69.2 L461.67 70.99 L461.82 72.75 L461.96 74.5 L462.11 76.22 L462.25 77.91 L462.39 79.58 L462.54 81.23 L462.68 82.85 L462.83 84.45 L462.97 86.03 L463.12 87.58 L463.26 89.1 L463.4 90.6 L463.55 92.08 L463.69 93.53 L463.84 94.96 L463.98 96.37 L464.13 97.75 L464.27 99.1 L464.41 100.44 L464.56 101.75 L464.7 103.03 L464.85 104.3 L464.99 105.54 L465.14 106.76 L465.28 107.96 L465.42 109.13 L465.57 110.29 L465.71 111.42 L465.86 112.53 L466 113.62 L466.15 114.69 L466.29 115.74 L466.43 116.77 L466.58 117.78 L466.72 118.77 L466.87 119.74 L467.01 120.69 L467.15 121.62 L467.3 122.54 L467.44 123.44 L467.59 124.32 L467.73 125.18 L467.88 126.02 L468.02 126.85 L468.16 127.66 L468.31 128.45 L468.45 129.23 L468.6 129.99 L468.74 130.74 L468.89 131.47 L469.03 132.18 L469.17 132.88 L469.32 133.57 L469.46 134.24 L469.61 134.9 L469.75 135.54 L469.9 136.17 L470.04 136.79 L470.18 137.39 L470.33 137.99 L470.47 138.56 L470.62 139.13 L470.76 139.68 L470.91 140.22 L471.05 140.75 L471.19 141.27 L471.34 141.78 L471.48 142.28 L471.63 142.76 L471.77 143.24 L471.91 143.7 L472.06 144.16 L472.2 144.6 L472.35 145.03 L472.49 145.46 L472.64 145.87 L472.78 146.28 L472.92 146.68 L473.07 147.06 L473.21 147.44 L473.36 147.81 L473.5 148.18 L473.65 148.53 L473.79 148.88 L473.93 149.22 L474.08 149.55 L474.22 149.87 L474.37 150.19 L474.51 150.49 L474.66 150.8 L474.8 151.09 L474.94 151.38 L475.09 151.66 L475.23 151.93 L475.38 152.2 L475.52 152.47 L475.66 152.72 L475.81 152.97 L475.95 153.22 L476.1 153.45 L476.17 153.57 L476.24 150.15 L476.39 145.03 L476.53 140.62 L476.67 136.6 L476.82 132.89 L476.96 129.4 L477.11 126.11 L477.25 122.99 L477.4 120.02 L477.54 117.18 L477.68 114.46 L477.83 111.86 L477.97 109.36 L478.12 106.95 L478.26 104.63 L478.41 102.39 L478.55 100.23 L478.69 98.15 L478.84 96.14 L478.98 94.19 L479.13 92.3 L479.27 90.47 L479.42 88.71 L479.56 86.99 L479.7 85.33 L479.85 83.71 L479.99 82.15 L480.14 80.63 L480.28 79.15 L480.42 77.71 L480.57 76.32 L480.71 74.97 L480.86 73.65 L481 72.37 L481.15 71.12 L481.29 69.9 L481.43 68.72 L481.58 67.57 L481.72 66.45 L481.87 65.36 L482.01 64.3 L482.16 63.27 L482.3 62.26 L482.44 61.28 L482.59 60.32 L482.73 59.39 L482.88 58.48 L483.02 57.59 L483.17 56.72 L483.31 55.88 L483.45 55.05 L483.6 54.25 L483.74 53.47 L483.89 52.7 L484.03 51.96 L484.18 51.23 L484.32 50.51 L484.46 49.82 L484.61 49.14 L484.75 48.48 L484.9 47.83 L485.04 47.2 L485.18 46.58 L485.33 45.98 L485.47 45.39 L485.62 44.81 L485.76 44.25 L485.91 43.7 L486.05 43.17 L486.19 42.64 L486.34 42.13 L486.48 41.63 L486.63 41.14 L486.77 40.66 L486.92 40.19 L487.06 39.73 L487.2 39.28 L487.35 38.84 L487.49 38.41 L487.64 38 L487.78 37.59 L487.93 37.18 L488.07 36.79 L488.21 36.41 L488.36 36.03 L488.5 35.67 L488.65 35.31 L488.79 34.95 L488.94 34.61 L489.08 34.27 L489.22 33.94 L489.37 33.62 L489.51 33.31 L489.66 33 L489.8 32.69 L489.94 32.4 L490.09 32.11 L490.23 31.82 L490.38 31.55 L490.52 31.27 L490.67 31.01 L490.81 30.75 L490.95 30.49 L491.1 30.24 L491.24 30 L491.39 29.76 L491.53 29.52 L491.68 29.29 L491.82 29.07 L491.96 28.85 L492.11 28.63 L492.25 28.42 L492.4 28.21 L492.54 28.01 L492.69 27.81 L492.83 27.61 L492.97 27.42 L493.12 27.23 L493.26 27.05 L493.3 27 L493.41 28.05 L493.55 29.77 L493.69 31.62 L493.84 33.55 L493.98 35.53 L494.13 37.55 L494.27 39.58 L494.42 41.63 L494.56 43.69 L494.7 45.74 L494.85 47.8 L494.99 49.84 L495.14 51.88 L495.28 53.9 L495.43 55.91 L495.57 57.91 L495.71 59.89 L495.86 61.85 L496 63.78 L496.15 65.7 L496.29 67.6 L496.44 69.47 L496.58 71.33 L496.72 73.16 L496.87 74.96 L497.01 76.74 L497.16 78.5 L497.3 80.23 L497.45 81.94 L497.59 83.62 L497.73 85.28 L497.88 86.91 L498.02 88.51 L498.17 90.1 L498.31 91.65 L498.45 93.18 L498.6 94.69 L498.74 96.17 L498.89 97.63 L499.03 99.06 L499.18 100.47 L499.32 101.85 L499.46 103.21 L499.61 104.55 L499.75 105.86 L499.9 107.15 L500.04 108.41 L500.19 109.66 L500.33 110.88 L500.47 112.08 L500.62 113.25 L500.76 114.41 L500.91 115.54 L501.05 116.65 L501.2 117.74 L501.34 118.81 L501.48 119.86 L501.63 120.88 L501.77 121.89 L501.92 122.88 L502.06 123.85 L502.21 124.8 L502.35 125.73 L502.49 126.65 L502.64 127.54 L502.78 128.42 L502.93 129.28 L503.07 130.12 L503.21 130.94 L503.36 131.75 L503.5 132.54 L503.65 133.32 L503.79 134.08 L503.94 134.82 L504.08 135.55 L504.22 136.26 L504.37 136.96 L504.51 137.65 L504.66 138.32 L504.8 138.97 L504.95 139.61 L505.09 140.24 L505.23 140.85 L505.38 141.46 L505.52 142.04 L505.67 142.62 L505.81 143.18 L505.96 143.73 L506.1 144.27 L506.24 144.8 L506.39 145.32 L506.53 145.82 L506.68 146.32 L506.82 146.8 L506.97 147.27 L507.11 147.73 L507.25 148.18 L507.4 148.63 L507.54 149.06 L507.69 149.48 L507.83 149.89 L507.97 150.3 L508.12 150.69 L508.26 151.08 L508.41 151.45 L508.55 151.82 L508.7 152.18 L508.84 152.53 L508.98 152.88 L509.13 153.22 L509.27 153.54 L509.42 153.86 L509.56 154.18 L509.71 154.49 L509.85 154.78 L509.99 155.08 L510.14 155.36 L510.28 155.64 L510.43 155.92 L510.57 156.18 L510.72 156.44 L510.86 156.7 L511 156.95 L511.15 157.19 L511.29 157.42 L511.44 157.66 L511.58 157.88" fill="none" stroke="#c94444" stroke-width="1.2" stroke-linejoin="round"/>
<text x="8.6" y="210.8" font-size="19" text-anchor="start" font-weight="bold" fill="#111" stroke="#111" stroke-width="0.4">B</text>
<text x="3" y="229.5" font-size="10.6" text-anchor="start" font-weight="normal" fill="#333" stroke="#333" stroke-width="0.6" stroke-opacity="0.15">43.5 <tspan font-size="7.5" dy="-3.5">o</tspan><tspan dy="3.5" dx="0.8">C</tspan></text>
<text x="3.3" y="368.3" font-size="10.6" text-anchor="start" font-weight="normal" fill="#333" stroke="#333" stroke-width="0.6" stroke-opacity="0.15">23.5 <tspan font-size="7.5" dy="-3.5">o</tspan><tspan dy="3.5" dx="0.8">C</tspan></text>
<defs><linearGradient id="cbar" x1="0" y1="0" x2="0" y2="1"><stop offset="0" stop-color="#ecebd6"/><stop offset="0.06" stop-color="#f2ef90"/><stop offset="0.15" stop-color="#f2e04a"/><stop offset="0.3" stop-color="#f2b034"/><stop offset="0.45" stop-color="#ec7a38"/><stop offset="0.57" stop-color="#dc5064"/><stop offset="0.68" stop-color="#b83a8c"/><stop offset="0.78" stop-color="#7a30a0"/><stop offset="0.88" stop-color="#3a2a88"/><stop offset="1" stop-color="#0c1038"/></linearGradient></defs>
<rect x="25.3" y="234.8" width="4.6" height="116" fill="url(#cbar)"/>
<defs>
<linearGradient id="st0" x1="0" y1="0" x2="0" y2="1"><stop offset="0" stop-color="#080c18"/><stop offset="0.35" stop-color="#090d1c"/><stop offset="0.5" stop-color="#141c3e"/><stop offset="0.62" stop-color="#1e2258"/><stop offset="0.73" stop-color="#2e2470"/><stop offset="0.84" stop-color="#34267a"/><stop offset="0.94" stop-color="#2a2268"/><stop offset="0.99" stop-color="#181a48"/><stop offset="1" stop-color="#141438"/></linearGradient>
<linearGradient id="st1" x1="0" y1="0" x2="0" y2="1"><stop offset="0" stop-color="#141838"/><stop offset="0.03" stop-color="#1a1e48"/><stop offset="0.13" stop-color="#1c2050"/><stop offset="0.166" stop-color="#202458"/><stop offset="0.228" stop-color="#242a66"/><stop offset="0.359" stop-color="#2a2a70"/><stop offset="0.488" stop-color="#3a2c80"/><stop offset="0.56" stop-color="#5a2a98"/><stop offset="0.66" stop-color="#8a2898"/><stop offset="0.73" stop-color="#a82898"/><stop offset="0.845" stop-color="#9a28a0"/><stop offset="0.904" stop-color="#6a2898"/><stop offset="0.95" stop-color="#3a2878"/><stop offset="0.99" stop-color="#2a2068"/><stop offset="1" stop-color="#201848"/></linearGradient>
<linearGradient id="st2" x1="0" y1="0" x2="0" y2="1"><stop offset="0" stop-color="#0c1028"/><stop offset="0.04" stop-color="#181c48"/><stop offset="0.15" stop-color="#1c2050"/><stop offset="0.17" stop-color="#202458"/><stop offset="0.22" stop-color="#262a6c"/><stop offset="0.25" stop-color="#2a2a78"/><stop offset="0.345" stop-color="#3a2a90"/><stop offset="0.398" stop-color="#5a2a98"/><stop offset="0.488" stop-color="#8a2a98"/><stop offset="0.572" stop-color="#c02890"/><stop offset="0.65" stop-color="#e04870"/><stop offset="0.714" stop-color="#f06048"/><stop offset="0.791" stop-color="#e86040"/><stop offset="0.854" stop-color="#d04070"/><stop offset="0.92" stop-color="#8a2898"/><stop offset="0.971" stop-color="#4a2080"/><stop offset="1" stop-color="#201848"/></linearGradient>
<linearGradient id="st3" x1="0" y1="0" x2="0" y2="1"><stop offset="0" stop-color="#141438"/><stop offset="0.035" stop-color="#2a2c6c"/><stop offset="0.13" stop-color="#2c2c70"/><stop offset="0.155" stop-color="#48288a"/><stop offset="0.175" stop-color="#5a2a98"/><stop offset="0.293" stop-color="#7a2a9a"/><stop offset="0.359" stop-color="#9a2a98"/><stop offset="0.424" stop-color="#c02890"/><stop offset="0.488" stop-color="#d83880"/><stop offset="0.55" stop-color="#e05060"/><stop offset="0.6" stop-color="#f07030"/><stop offset="0.67" stop-color="#f09020"/><stop offset="0.76" stop-color="#f0a820"/><stop offset="0.82" stop-color="#f0b020"/><stop offset="0.865" stop-color="#f09830"/><stop offset="0.9" stop-color="#e07040"/><stop offset="0.935" stop-color="#c04880"/><stop offset="0.97" stop-color="#7a2898"/><stop offset="0.995" stop-color="#3a2070"/><stop offset="1" stop-color="#201848"/></linearGradient>
<linearGradient id="st4" x1="0" y1="0" x2="0" y2="1"><stop offset="0" stop-color="#141438"/><stop offset="0.035" stop-color="#2a2e70"/><stop offset="0.08" stop-color="#32347c"/><stop offset="0.13" stop-color="#2e2e74"/><stop offset="0.155" stop-color="#4a2a8c"/><stop offset="0.175" stop-color="#5a2a98"/><stop offset="0.248" stop-color="#7028a0"/><stop offset="0.299" stop-color="#8a28a0"/><stop offset="0.395" stop-color="#a82898"/><stop offset="0.462" stop-color="#c83080"/><stop offset="0.521" stop-color="#e04858"/><stop offset="0.569" stop-color="#f07030"/><stop offset="0.617" stop-color="#f09020"/><stop offset="0.664" stop-color="#f0b020"/><stop offset="0.69" stop-color="#f0c828"/><stop offset="0.756" stop-color="#f0d840"/><stop offset="0.82" stop-color="#f0d840"/><stop offset="0.867" stop-color="#f0b030"/><stop offset="0.9" stop-color="#f08030"/><stop offset="0.925" stop-color="#c03870"/><stop offset="0.958" stop-color="#6a2090"/><stop offset="0.99" stop-color="#301860"/><stop offset="1" stop-color="#201848"/></linearGradient>
<linearGradient id="st5" x1="0" y1="0" x2="0" y2="1"><stop offset="0" stop-color="#141438"/><stop offset="0.035" stop-color="#2a2c6c"/><stop offset="0.14" stop-color="#2a2a6a"/><stop offset="0.165" stop-color="#48288a"/><stop offset="0.185" stop-color="#502a98"/><stop offset="0.266" stop-color="#6a2a98"/><stop offset="0.343" stop-color="#8a2898"/><stop offset="0.42" stop-color="#a82890"/><stop offset="0.478" stop-color="#d03878"/><stop offset="0.516" stop-color="#e04860"/><stop offset="0.555" stop-color="#f06040"/><stop offset="0.593" stop-color="#f08030"/><stop offset="0.642" stop-color="#f0a020"/><stop offset="0.683" stop-color="#f0c030"/><stop offset="0.741" stop-color="#f0d040"/><stop offset="0.818" stop-color="#f0d040"/><stop offset="0.866" stop-color="#f0b830"/><stop offset="0.905" stop-color="#f09830"/><stop offset="0.924" stop-color="#e06040"/><stop offset="0.943" stop-color="#c04070"/><stop offset="0.962" stop-color="#8a30a0"/><stop offset="0.986" stop-color="#4a2880"/><stop offset="1" stop-color="#201848"/></linearGradient>
<linearGradient id="vig" x1="0" y1="0" x2="1" y2="0"><stop offset="0" stop-color="#180f38" stop-opacity="1"/><stop offset="0.06" stop-color="#180f38" stop-opacity="0.92"/><stop offset="0.1" stop-color="#180f38" stop-opacity="0.3"/><stop offset="0.16" stop-color="#180f38" stop-opacity="0"/><stop offset="0.84" stop-color="#180f38" stop-opacity="0"/><stop offset="0.9" stop-color="#180f38" stop-opacity="0.3"/><stop offset="0.94" stop-color="#180f38" stop-opacity="0.92"/><stop offset="1" stop-color="#180f38" stop-opacity="1"/></linearGradient>
<linearGradient id="vig2" x1="0" y1="0" x2="1" y2="0"><stop offset="0" stop-color="#f09070"/><stop offset="0.1" stop-color="#fab894"/><stop offset="0.22" stop-color="#fff"/><stop offset="0.78" stop-color="#fff"/><stop offset="0.9" stop-color="#fab894"/><stop offset="1" stop-color="#f09070"/></linearGradient>
<radialGradient id="dome" cx="0.5" cy="1" r="1" fx="0.5" fy="1"><stop offset="0" stop-color="#000010" stop-opacity="0.15"/><stop offset="0.7" stop-color="#4848a8" stop-opacity="0.0"/><stop offset="0.88" stop-color="#5050b0" stop-opacity="0.25"/><stop offset="1" stop-color="#5050b0" stop-opacity="0"/></radialGradient>
</defs>
<rect x="42.6" y="214.2" width="32.2" height="153.2" fill="url(#st0)"/>
<rect x="42.6" y="214.2" width="32.2" height="153.2" fill="url(#vig2)" style="mix-blend-mode:multiply"/>
<rect x="42.6" y="214.2" width="32.2" height="153.2" fill="url(#vig)"/>
<rect x="78" y="214.2" width="32.2" height="153.2" fill="url(#st1)"/>
<path d="M81.6 233 A12.5 13 0 0 1 106.6 233 Z" fill="url(#dome)"/>
<rect x="78" y="214.2" width="32.2" height="153.2" fill="url(#vig2)" style="mix-blend-mode:multiply"/>
<rect x="78" y="214.2" width="32.2" height="153.2" fill="url(#vig)"/>
<rect x="113.3" y="214.2" width="32.2" height="153.2" fill="url(#st2)"/>
<path d="M116.9 233 A12.5 13 0 0 1 141.9 233 Z" fill="url(#dome)"/>
<rect x="113.3" y="214.2" width="32.2" height="153.2" fill="url(#vig2)" style="mix-blend-mode:multiply"/>
<rect x="113.3" y="214.2" width="32.2" height="153.2" fill="url(#vig)"/>
<rect x="148.4" y="214.2" width="32.2" height="153.2" fill="url(#st3)"/>
<path d="M152 233 A12.5 13 0 0 1 177 233 Z" fill="url(#dome)"/>
<rect x="148.4" y="214.2" width="32.2" height="153.2" fill="url(#vig2)" style="mix-blend-mode:multiply"/>
<rect x="148.4" y="214.2" width="32.2" height="153.2" fill="url(#vig)"/>
<rect x="183.8" y="214.2" width="32.2" height="153.2" fill="url(#st4)"/>
<path d="M187.4 233 A12.5 13 0 0 1 212.4 233 Z" fill="url(#dome)"/>
<rect x="183.8" y="214.2" width="32.2" height="153.2" fill="url(#vig2)" style="mix-blend-mode:multiply"/>
<rect x="183.8" y="214.2" width="32.2" height="153.2" fill="url(#vig)"/>
<rect x="219.5" y="214.2" width="32.2" height="153.2" fill="url(#st5)"/>
<path d="M223.1 233 A12.5 13 0 0 1 248.1 233 Z" fill="url(#dome)"/>
<rect x="219.5" y="214.2" width="32.2" height="153.2" fill="url(#vig2)" style="mix-blend-mode:multiply"/>
<rect x="219.5" y="214.2" width="32.2" height="153.2" fill="url(#vig)"/>
<text x="41.6" y="381.2" font-size="12.2" text-anchor="start" font-weight="normal" fill="#111" stroke="#111" stroke-width="0.6">Water</text>
<text x="82.1" y="381.2" font-size="12.2" text-anchor="start" font-weight="normal" fill="#111" stroke="#111" stroke-width="0.6">0.05</text>
<text x="113.6" y="381.2" font-size="12.2" text-anchor="start" font-weight="normal" fill="#111" stroke="#111" stroke-width="0.6">0.10</text>
<text x="149.3" y="381.2" font-size="12.2" text-anchor="start" font-weight="normal" fill="#111" stroke="#111" stroke-width="0.6">0.20</text>
<text x="184.6" y="381.2" font-size="12.2" text-anchor="start" font-weight="normal" fill="#111" stroke="#111" stroke-width="0.6">0.40</text>
<text x="225.7" y="381.2" font-size="12.2" text-anchor="start" font-weight="normal" fill="#111" stroke="#111" stroke-width="0.6">0.80</text>
<path d="M41.6 385.3H246" stroke="#111" stroke-width="1.3"/>
<path d="M251 385.3L244 382.2L245.2 385.3L244 388.4Z" fill="#111"/>
<text x="152.8" y="401.2" font-size="16" text-anchor="middle" font-weight="normal" fill="#111" stroke="#111" stroke-width="0.6">Concentration [Fe] (mM)</text>
<rect x="302.1" y="215.7" width="209.9" height="151.9" fill="none" stroke="#2b2b2b" stroke-width="1.1"/>
<path d="M323.5 367.6v-3 M350.35 367.6v-1.8 M377.2 367.6v-3 M404.05 367.6v-1.8 M430.9 367.6v-3 M457.75 367.6v-1.8 M484.6 367.6v-3 M511.45 367.6v-1.8 M302.1 355.75h1.8 M302.1 344.1h3 M302.1 332.45h1.8 M302.1 320.8h3 M302.1 309.15h1.8 M302.1 297.5h3 M302.1 285.85h1.8 M302.1 274.2h3 M302.1 262.55h1.8 M302.1 250.9h3 M302.1 239.25h1.8 M302.1 227.6h3 M302.1 215.95h1.8" stroke="#2b2b2b" stroke-width="1" fill="none"/>
<text x="323.5" y="381.2" font-size="12" text-anchor="middle" font-weight="normal" fill="#111" stroke="#111" stroke-width="0.6">0.0</text>
<text x="377.2" y="381.2" font-size="12" text-anchor="middle" font-weight="normal" fill="#111" stroke="#111" stroke-width="0.6">0.5</text>
<text x="430.9" y="381.2" font-size="12" text-anchor="middle" font-weight="normal" fill="#111" stroke="#111" stroke-width="0.6">1.0</text>
<text x="484.6" y="381.2" font-size="12" text-anchor="middle" font-weight="normal" fill="#111" stroke="#111" stroke-width="0.6">1.5</text>
<text x="298.5" y="371.9" font-size="12" text-anchor="end" font-weight="normal" fill="#111" stroke="#111" stroke-width="0.6">0.0</text>
<text x="298.5" y="348.6" font-size="12" text-anchor="end" font-weight="normal" fill="#111" stroke="#111" stroke-width="0.6">0.5</text>
<text x="298.5" y="325.3" font-size="12" text-anchor="end" font-weight="normal" fill="#111" stroke="#111" stroke-width="0.6">1.0</text>
<text x="298.5" y="302" font-size="12" text-anchor="end" font-weight="normal" fill="#111" stroke="#111" stroke-width="0.6">1.5</text>
<text x="298.5" y="278.7" font-size="12" text-anchor="end" font-weight="normal" fill="#111" stroke="#111" stroke-width="0.6">2.0</text>
<text x="298.5" y="255.4" font-size="12" text-anchor="end" font-weight="normal" fill="#111" stroke="#111" stroke-width="0.6">2.5</text>
<text x="298.5" y="232.1" font-size="12" text-anchor="end" font-weight="normal" fill="#111" stroke="#111" stroke-width="0.6">3.0</text>
<text x="402.5" y="400.8" font-size="15.9" text-anchor="middle" font-weight="normal" fill="#111" stroke="#111" stroke-width="0.6">Concentration [Fe] (mM)</text>
<text x="274" y="297.4" font-size="15.5" text-anchor="middle" font-weight="normal" fill="#111" stroke="#111" stroke-width="0.6" transform="rotate(-90 274 297.4)">1/T (s<tspan font-size="9.5" dy="-5.5">-1</tspan><tspan dy="5.5">)</tspan></text>
<text x="264.8" y="211.2" font-size="19" text-anchor="start" font-weight="bold" fill="#111" stroke="#111" stroke-width="0.4">D</text>
<path d="M323.5 348.76 L495.34 234.59" stroke="#222" stroke-width="1"/>
<path d="M323.5 347.36 L495.34 226.2" stroke="#e03434" stroke-width="1"/>
<rect x="321.77" y="347.03" width="3.45" height="3.45" fill="#111"/>
<rect x="327.14" y="344.24" width="3.45" height="3.45" fill="#111"/>
<rect x="332.51" y="340.51" width="3.45" height="3.45" fill="#111"/>
<rect x="343.25" y="333.99" width="3.45" height="3.45" fill="#111"/>
<rect x="364.74" y="319.54" width="3.45" height="3.45" fill="#111"/>
<rect x="407.69" y="290.65" width="3.45" height="3.45" fill="#111"/>
<rect x="493.62" y="232.86" width="3.45" height="3.45" fill="#111"/>
<circle cx="323.5" cy="347.36" r="1.95" fill="#cc1c22"/>
<circle cx="328.87" cy="344.1" r="1.95" fill="#cc1c22"/>
<circle cx="334.24" cy="340.84" r="1.95" fill="#cc1c22"/>
<circle cx="344.98" cy="334.31" r="1.95" fill="#cc1c22"/>
<circle cx="366.46" cy="319.4" r="1.95" fill="#cc1c22"/>
<circle cx="409.42" cy="289.11" r="1.95" fill="#cc1c22"/>
<circle cx="495.34" cy="226.2" r="1.95" fill="#cc1c22"/>
<rect x="319.07" y="226.68" width="3.45" height="3.45" fill="#000"/>
<circle cx="321" cy="242.1" r="1.87" fill="#cc1c22"/>
<text x="326.3" y="232.8" font-size="12.2" text-anchor="start" font-weight="normal" fill="#2a2a2a" stroke="#2a2a2a" stroke-width="0.6" stroke-opacity="0.5"><tspan font-style="italic">r</tspan><tspan font-size="7" dy="3.5" dx="0.3">1</tspan><tspan dy="-3.5" dx="0.2">=1.55</tspan></text>
<text x="326.3" y="247.1" font-size="12.2" text-anchor="start" font-weight="normal" fill="#2a2a2a" stroke="#2a2a2a" stroke-width="0.6" stroke-opacity="0.5"><tspan font-style="italic">r</tspan><tspan font-size="7" dy="3.5" dx="0.3">2</tspan><tspan dy="-3.5" dx="0.2">=1.63</tspan></text>
<text x="522.1" y="16.3" font-size="19" text-anchor="start" font-weight="bold" fill="#111" stroke="#111" stroke-width="0.4">E</text>
<rect x="543.8" y="12.2" width="103.5" height="372.6" fill="#000"/>
<defs><filter id="nzw" x="0" y="0" width="100%" height="100%" color-interpolation-filters="sRGB"><feTurbulence type="fractalNoise" baseFrequency="0.38" numOctaves="2" seed="7" result="t"/><feColorMatrix in="t" type="matrix" values="0 0 0 0 1  0 0 0 0 1  0 0 0 0 1  3 0 0 0 -1.35" result="w"/><feComposite in="SourceGraphic" in2="w" operator="in"/></filter><filter id="nzd" x="0" y="0" width="100%" height="100%" color-interpolation-filters="sRGB"><feTurbulence type="fractalNoise" baseFrequency="0.4" numOctaves="2" seed="21" result="t"/><feColorMatrix in="t" type="matrix" values="0 0 0 0 0  0 0 0 0 0  0 0 0 0 0  3 0 0 0 -1.35" result="w"/><feComposite in="SourceGraphic" in2="w" operator="in"/></filter><radialGradient id="rim"><stop offset="0.8" stop-color="#000" stop-opacity="0"/><stop offset="1" stop-color="#000" stop-opacity="0.28"/></radialGradient></defs>
<circle cx="570.1" cy="56" r="19.8" fill="#2e6cd0"/>
<g opacity="0.35"><circle cx="570.1" cy="56" r="19.8" fill="#bfe0ff" filter="url(#nzw)"/></g>
<g opacity="0.18"><circle cx="570.1" cy="56" r="19.8" fill="#000" filter="url(#nzd)"/></g>
<circle cx="570.1" cy="56" r="19.8" fill="url(#rim)"/>
<circle cx="615.0" cy="56" r="19.7" fill="#202020"/>
<g opacity="0.1"><circle cx="615.0" cy="56" r="19.7" fill="#fff" filter="url(#nzw)"/></g>
<g opacity="0.12"><circle cx="615.0" cy="56" r="19.7" fill="#000" filter="url(#nzd)"/></g>
<circle cx="570.1" cy="104.15" r="19.8" fill="#3ca2e4"/>
<g opacity="0.38"><circle cx="570.1" cy="104.15" r="19.8" fill="#d8f4ff" filter="url(#nzw)"/></g>
<g opacity="0.15"><circle cx="570.1" cy="104.15" r="19.8" fill="#000" filter="url(#nzd)"/></g>
<circle cx="570.1" cy="104.15" r="19.8" fill="url(#rim)"/>
<circle cx="615.0" cy="104.15" r="19.7" fill="#2e2e2e"/>
<g opacity="0.1"><circle cx="615.0" cy="104.15" r="19.7" fill="#fff" filter="url(#nzw)"/></g>
<g opacity="0.12"><circle cx="615.0" cy="104.15" r="19.7" fill="#000" filter="url(#nzd)"/></g>
<circle cx="570.1" cy="152.3" r="19.8" fill="#5ac4dc"/>
<g opacity="0.3"><circle cx="570.1" cy="152.3" r="19.8" fill="#d0f4f0" filter="url(#nzw)"/></g>
<g opacity="0.12"><circle cx="570.1" cy="152.3" r="19.8" fill="#000" filter="url(#nzd)"/></g>
<circle cx="570.1" cy="152.3" r="19.8" fill="url(#rim)"/>
<circle cx="615.0" cy="152.3" r="19.7" fill="#3e3e3e"/>
<g opacity="0.1"><circle cx="615.0" cy="152.3" r="19.7" fill="#fff" filter="url(#nzw)"/></g>
<g opacity="0.12"><circle cx="615.0" cy="152.3" r="19.7" fill="#000" filter="url(#nzd)"/></g>
<circle cx="570.1" cy="200.45" r="19.8" fill="#6cc8a0"/>
<g opacity="0.18"><circle cx="570.1" cy="200.45" r="19.8" fill="#c8f0d8" filter="url(#nzw)"/></g>
<g opacity="0.08"><circle cx="570.1" cy="200.45" r="19.8" fill="#000" filter="url(#nzd)"/></g>
<circle cx="570.1" cy="200.45" r="19.8" fill="url(#rim)"/>
<circle cx="615.0" cy="200.45" r="19.7" fill="#585858"/>
<g opacity="0.1"><circle cx="615.0" cy="200.45" r="19.7" fill="#fff" filter="url(#nzw)"/></g>
<g opacity="0.12"><circle cx="615.0" cy="200.45" r="19.7" fill="#000" filter="url(#nzd)"/></g>
<circle cx="570.1" cy="248.6" r="19.8" fill="#5eba40"/>
<g opacity="0.06"><circle cx="570.1" cy="248.6" r="19.8" fill="#a0e070" filter="url(#nzw)"/></g>
<g opacity="0.04"><circle cx="570.1" cy="248.6" r="19.8" fill="#000" filter="url(#nzd)"/></g>
<circle cx="570.1" cy="248.6" r="19.8" fill="url(#rim)"/>
<circle cx="615.0" cy="248.6" r="19.7" fill="#7e7e7e"/>
<g opacity="0.1"><circle cx="615.0" cy="248.6" r="19.7" fill="#fff" filter="url(#nzw)"/></g>
<g opacity="0.12"><circle cx="615.0" cy="248.6" r="19.7" fill="#000" filter="url(#nzd)"/></g>
<circle cx="570.1" cy="296.75" r="19.8" fill="#b4d038"/>
<g opacity="0.4"><circle cx="570.1" cy="296.75" r="19.8" fill="#f8f070" filter="url(#nzw)"/></g>
<g opacity="0.1"><circle cx="570.1" cy="296.75" r="19.8" fill="#000" filter="url(#nzd)"/></g>
<circle cx="570.1" cy="296.75" r="19.8" fill="url(#rim)"/>
<circle cx="615.0" cy="296.75" r="19.7" fill="#a8a8a8"/>
<g opacity="0.1"><circle cx="615.0" cy="296.75" r="19.7" fill="#fff" filter="url(#nzw)"/></g>
<g opacity="0.12"><circle cx="615.0" cy="296.75" r="19.7" fill="#000" filter="url(#nzd)"/></g>
<circle cx="570.1" cy="344.9" r="19.8" fill="#f0aa28"/>
<g opacity="0.35"><circle cx="570.1" cy="344.9" r="19.8" fill="#d83010" filter="url(#nzw)"/></g>
<g opacity="0.06"><circle cx="570.1" cy="344.9" r="19.8" fill="#000" filter="url(#nzd)"/></g>
<circle cx="570.1" cy="344.9" r="19.8" fill="url(#rim)"/>
<circle cx="615.0" cy="344.9" r="19.7" fill="#cdcdcd"/>
<g opacity="0.1"><circle cx="615.0" cy="344.9" r="19.7" fill="#fff" filter="url(#nzw)"/></g>
<g opacity="0.12"><circle cx="615.0" cy="344.9" r="19.7" fill="#000" filter="url(#nzd)"/></g>
<defs><linearGradient id="gbar" x1="0" y1="0" x2="1" y2="0"><stop offset="0" stop-color="#000"/><stop offset="0.13" stop-color="#080808"/><stop offset="0.45" stop-color="#707070"/><stop offset="0.75" stop-color="#b8b8b8"/><stop offset="0.93" stop-color="#e8e8e8"/><stop offset="1" stop-color="#f8f8f8"/></linearGradient><linearGradient id="jbar" x1="0" y1="0" x2="1" y2="0"><stop offset="0" stop-color="#1a3090"/><stop offset="0.14" stop-color="#1a3a98"/><stop offset="0.22" stop-color="#40b8e0"/><stop offset="0.3" stop-color="#60c8a0"/><stop offset="0.39" stop-color="#70b830"/><stop offset="0.68" stop-color="#80b830"/><stop offset="0.755" stop-color="#e8e040"/><stop offset="0.82" stop-color="#f08020"/><stop offset="0.88" stop-color="#d82020"/><stop offset="0.95" stop-color="#c02020"/><stop offset="1" stop-color="#802030"/></linearGradient></defs>
<rect x="543.8" y="388.4" width="103.5" height="4" fill="url(#gbar)"/>
<rect x="543.8" y="395" width="103.5" height="4.2" fill="url(#jbar)"/>
<text x="653.6" y="57.5" font-size="13.2" text-anchor="middle" font-weight="normal" fill="#222" stroke="#222" stroke-width="0.6" transform="rotate(90 653.6 57.5)" stroke-opacity="0.5">Water</text>
<text x="653.6" y="104.15" font-size="13.2" text-anchor="middle" font-weight="normal" fill="#222" stroke="#222" stroke-width="0.6" transform="rotate(90 653.6 104.15)" stroke-opacity="0.5">0.05</text>
<text x="653.6" y="152.3" font-size="13.2" text-anchor="middle" font-weight="normal" fill="#222" stroke="#222" stroke-width="0.6" transform="rotate(90 653.6 152.3)" stroke-opacity="0.5">0.10</text>
<text x="653.6" y="200.45" font-size="13.2" text-anchor="middle" font-weight="normal" fill="#222" stroke="#222" stroke-width="0.6" transform="rotate(90 653.6 200.45)" stroke-opacity="0.5">0.20</text>
<text x="653.6" y="248.6" font-size="13.2" text-anchor="middle" font-weight="normal" fill="#222" stroke="#222" stroke-width="0.6" transform="rotate(90 653.6 248.6)" stroke-opacity="0.5">0.40</text>
<text x="653.6" y="296.75" font-size="13.2" text-anchor="middle" font-weight="normal" fill="#222" stroke="#222" stroke-width="0.6" transform="rotate(90 653.6 296.75)" stroke-opacity="0.5">0.80</text>
<text x="653.6" y="344.9" font-size="13.2" text-anchor="middle" font-weight="normal" fill="#222" stroke="#222" stroke-width="0.6" transform="rotate(90 653.6 344.9)" stroke-opacity="0.5">1.60</text>
<path d="M667.6 39.3V357" stroke="#111" stroke-width="1.2"/>
<path d="M667.6 362.5L664.6 354.5L667.6 356.5L670.6 354.5Z" fill="#111"/>
<text x="677" y="201.8" font-size="13.9" text-anchor="middle" font-weight="normal" fill="#111" stroke="#111" stroke-width="0.6" transform="rotate(90 677 201.8)">Concentration [Fe] (mM)</text></svg>
</body></html>
